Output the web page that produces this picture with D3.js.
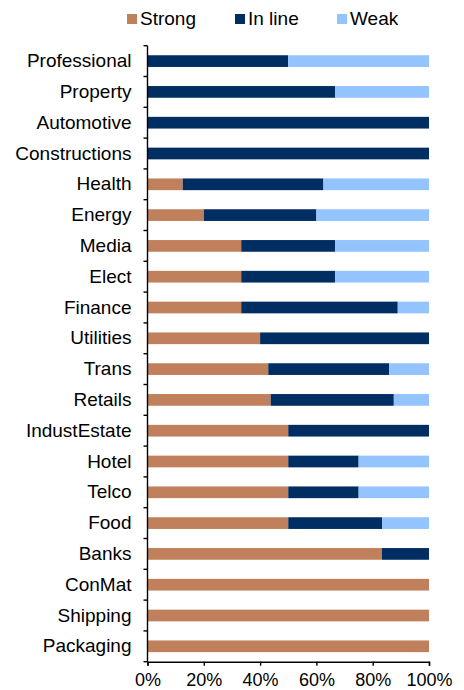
<!DOCTYPE html>
<html>
<head>
<meta charset="utf-8">
<script src="https://cdn.jsdelivr.net/npm/d3@7/dist/d3.min.js"></script>
<style>
  body { margin: 0; background: #fff; }
  svg { display: block; font-family: "Liberation Sans", Arial, sans-serif; }
</style>
</head>
<body>
<div id="chart"></div>
<script>
// sectors, top to bottom
const sectors = ["Professional", "Property", "Automotive", "Constructions", "Health", "Energy",
  "Media", "Elect", "Finance", "Utilities", "Trans", "Retails", "IndustEstate", "Hotel",
  "Telco", "Food ", "Banks", "ConMat", "Shipping", "Packaging"];
// share of each sector, %
const strong = [0, 0, 0, 0, 12.5, 20, 33.3, 33.3, 33.3, 40, 42.9, 43.75, 50, 50, 50, 50, 83.3, 100, 100, 100];
const inLine = [50, 66.7, 100, 100, 50, 40, 33.3, 33.3, 55.6, 60, 42.9, 43.75, 50, 25, 25, 33.3, 16.7, 0, 0, 0];
const weak   = [50, 33.3, 0, 0, 37.5, 40, 33.4, 33.4, 11.1, 0, 14.2, 12.5, 0, 25, 25, 16.7, 0, 0, 0, 0];
const seriesNames = ["Strong", "In line", "Weak"];
const seriesColors = ["#c0805b", "#002d62", "#93c4ff"];
const xTicks = [0, 20, 40, 60, 80, 100];

const W = 464, H = 690;
const margin = { top: 45.7, left: 147.5, right: 35, bottom: 28.3 };
const innerW = 429 - margin.left;
const innerH = H - margin.top - margin.bottom;
const fontSize = "19px";

const rows = sectors.map((s, i) => ({ sector: s, "Strong": strong[i], "In line": inLine[i], "Weak": weak[i] }));
const stacked = d3.stack().keys(seriesNames)(rows);

const svg = d3.select("#chart").append("svg")
    .attr("width", W)
    .attr("height", H);

const g = svg.append("g")
    .attr("transform", "translate(" + margin.left + "," + margin.top + ")");

const x = d3.scaleLinear().domain([0, 100]).range([0, innerW]);
const y = d3.scaleBand().domain(sectors).range([0, innerH])
    .paddingInner(0.62).paddingOuter(0.31);
const color = d3.scaleOrdinal().domain(seriesNames).range(seriesColors);

// bars
g.selectAll("g.series")
    .data(stacked)
    .enter().append("g")
    .attr("class", "series")
    .attr("fill", d => color(d.key))
    .selectAll("rect")
    .data(d => d)
    .enter().append("rect")
    .attr("x", d => x(d[0]))
    .attr("y", d => y(d.data.sector))
    .attr("width", d => x(d[1]) - x(d[0]))
    .attr("height", y.bandwidth());

// y axis: labels from axis, ticks on band boundaries
const yAxis = g.append("g")
    .call(d3.axisLeft(y).tickSize(0).tickPadding(16));
yAxis.select(".domain").remove();
yAxis.selectAll("text")
    .attr("font-size", fontSize)
    .attr("font-family", "Liberation Sans, Arial, sans-serif")
    .attr("fill", "#000");

const step = y.step();
const bounds = d3.range(sectors.length + 1).map(i => i * step);
g.append("line")
    .attr("x1", 0).attr("x2", 0)
    .attr("y1", 0).attr("y2", innerH)
    .attr("stroke", "#000").attr("stroke-width", 1.4);
g.selectAll("line.ytick")
    .data(bounds)
    .enter().append("line")
    .attr("class", "ytick")
    .attr("x1", -4).attr("x2", 0)
    .attr("y1", d => d).attr("y2", d => d)
    .attr("stroke", "#000").attr("stroke-width", 1.4);

// x axis
const xAxis = g.append("g")
    .attr("transform", "translate(0," + innerH + ")")
    .call(d3.axisBottom(x).tickValues(xTicks).tickFormat(d => d + "%").tickSize(4).tickPadding(8).tickSizeOuter(4));
xAxis.selectAll("path, line").attr("stroke", "#000").attr("stroke-width", 1.4);
xAxis.selectAll("text")
    .attr("font-size", "18px")
    .attr("font-family", "Liberation Sans, Arial, sans-serif")
    .attr("fill", "#000");

// legend
const legendX = [127, 235, 337];
const legend = svg.selectAll("g.legend")
    .data(seriesNames)
    .enter().append("g")
    .attr("class", "legend")
    .attr("transform", (d, i) => "translate(" + legendX[i] + ",14)");
legend.append("rect")
    .attr("width", 10).attr("height", 10)
    .attr("fill", d => color(d));
legend.append("text")
    .attr("x", 13).attr("y", 11)
    .attr("font-size", fontSize)
    .attr("fill", "#000")
    .text(d => d);
</script>
</body>
</html>
